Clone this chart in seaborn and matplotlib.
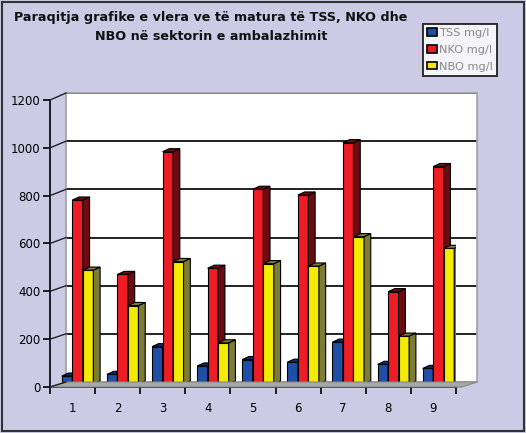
import matplotlib
matplotlib.use("Agg")
import matplotlib.pyplot as plt
import seaborn as sns
import pandas as pd
from matplotlib.patches import Polygon, Rectangle, Patch
from matplotlib.lines import Line2D
from matplotlib.transforms import ScaledTranslation

# Measurement points and values (mg/l)
stations = ["1", "2", "3", "4", "5", "6", "7", "8", "9"]
tss = [33, 40, 156, 75, 102, 91, 175, 82, 65]
nko = [769, 458, 971, 484, 814, 790, 1009, 386, 909]
nbo = [476, 328, 512, 172, 503, 493, 616, 200, 567]
series_labels = ["TSS mg/l", "NKO mg/l", "NBO mg/l"]
y_ticks = [0, 200, 400, 600, 800, 1000, 1200]
title_lines = ["Paraqitja grafike e vlera ve të matura të TSS, NKO dhe",
               "NBO në sektorin e ambalazhimit"]

front_colors = ["#1f4ea6", "#ee1c25", "#f4ec00"]
side_colors = ["#0f2a66", "#6e0b10", "#7c7c36"]
bg = "#cccae4"

df = pd.DataFrame({"station": stations, series_labels[0]: tss,
                   series_labels[1]: nko, series_labels[2]: nbo})
long = df.melt(id_vars="station", var_name="series", value_name="value")

W, H = 526, 433
fig = plt.figure(figsize=(W / 100, H / 100), dpi=100, facecolor=bg)


def fx(px):
    return px / W


def fy(py):
    return 1 - py / H


# Back wall with gridlines
wall = fig.add_axes([fx(66), fy(382), fx(477) - fx(66), fy(93) - fy(382)])
wall.set_facecolor("white")
wall.set_xlim(0, 1)
wall.set_ylim(0, 1200)
for v in y_ticks[1:]:
    wall.axhline(v, color="#111111", lw=1.3)
wall.set_xticks([])
wall.set_yticks([])
for s in wall.spines.values():
    s.set_color("#a0a0a0")
    s.set_linewidth(1.2)

# Floor of the box
floor = Polygon([(fx(50), fy(387)), (fx(462), fy(387)), (fx(477), fy(382)),
                 (fx(66), fy(382))], closed=True, transform=fig.transFigure,
                facecolor="#a8a8a8", edgecolor="#888888", lw=0.8, zorder=0.5)
fig.patches.append(floor)

# Front axes holding the bars
ax = fig.add_axes([fx(50), fy(387), fx(456) - fx(50), fy(100) - fy(387)])
ax.patch.set_alpha(0)
sns.barplot(data=long, x="station", y="value", hue="series",
            hue_order=series_labels, palette=front_colors, saturation=1,
            width=0.7, edgecolor="black", linewidth=0.8, legend=False, ax=ax)
ax.set_xlim(-0.5, 8.5)
ax.set_ylim(0, 1200)

shift = ScaledTranslation(5 / 100, 3 / 100, fig.dpi_scale_trans)
dx, dy = 0.15, 13
for k, cont in enumerate(ax.containers):
    for bar in cont:
        bar.set_transform(ax.transData + shift)
        bar.set_zorder(2 + k)
        x0 = bar.get_x()
        x1 = x0 + bar.get_width()
        h = bar.get_height()
        side = Polygon([(x1, 0), (x1 + dx, dy), (x1 + dx, h + dy), (x1, h)],
                       closed=True, facecolor=side_colors[k],
                       edgecolor="black", lw=0.8,
                       transform=ax.transData + shift, zorder=2.1 + k)
        top = Polygon([(x0, h), (x0 + dx, h + dy), (x1 + dx, h + dy), (x1, h)],
                      closed=True, facecolor=side_colors[k],
                      edgecolor="black", lw=0.8,
                      transform=ax.transData + shift, zorder=2.2 + k)
        ax.add_patch(side)
        ax.add_patch(top)

for s in ["top", "right"]:
    ax.spines[s].set_visible(False)
ax.spines["left"].set_color("black")
ax.spines["bottom"].set_color("black")
ax.spines["left"].set_linewidth(1.2)
ax.spines["bottom"].set_linewidth(1.2)
ax.set_yticks(y_ticks)
ax.set_yticklabels([str(v) for v in y_ticks])
ax.set_xticks(range(len(stations)))
ax.set_xticklabels(stations)
ax.set_xticks([i + 0.5 for i in range(-1, len(stations))], minor=True)
ax.tick_params(axis="x", which="major", length=0, pad=11, labelsize=8.5)
ax.tick_params(axis="x", which="minor", length=5, width=1.2, color="black")
ax.tick_params(axis="y", length=5, width=1.2, pad=2, labelsize=8.5)
ax.set_xlabel("")
ax.set_ylabel("")
ax.grid(False)

# Slanted connectors from the value axis to the back wall
for v in y_ticks:
    yf = 387 - v / 1200 * 287
    yb = 382 - v / 1200 * 289
    fig.lines.append(Line2D([fx(50), fx(66)], [fy(yf), fy(yb)],
                            transform=fig.transFigure, color="#222222",
                            lw=1.0, zorder=1))

# Title
fig.text(fx(211), fy(17), title_lines[0], ha="center", va="center",
         fontsize=9.2, fontweight="bold", color="#111111")
fig.text(fx(211), fy(36), title_lines[1], ha="center", va="center",
         fontsize=9.2, fontweight="bold", color="#111111")

# Legend
handles = [Patch(facecolor=c, edgecolor="black", lw=1.2) for c in front_colors]
leg = fig.legend(handles, series_labels, loc="upper left",
                 bbox_to_anchor=(fx(423), fy(24)), fontsize=8.2,
                 frameon=True, fancybox=False, handlelength=0.9,
                 handleheight=0.65, handletextpad=0.15, labelspacing=0.6,
                 borderpad=0.35, borderaxespad=0)
leg.get_frame().set_edgecolor("black")
leg.get_frame().set_linewidth(1.4)
leg.get_frame().set_facecolor("white")
for t in leg.get_texts():
    t.set_color("#8a8a8a")

# Outer border
fig.patches.append(Rectangle((fx(2), fy(431)), fx(522), fy(2) - fy(431),
                             transform=fig.transFigure, fill=False,
                             edgecolor="#333333", lw=1.5))

fig.savefig("out.png", dpi=100, facecolor=bg)
